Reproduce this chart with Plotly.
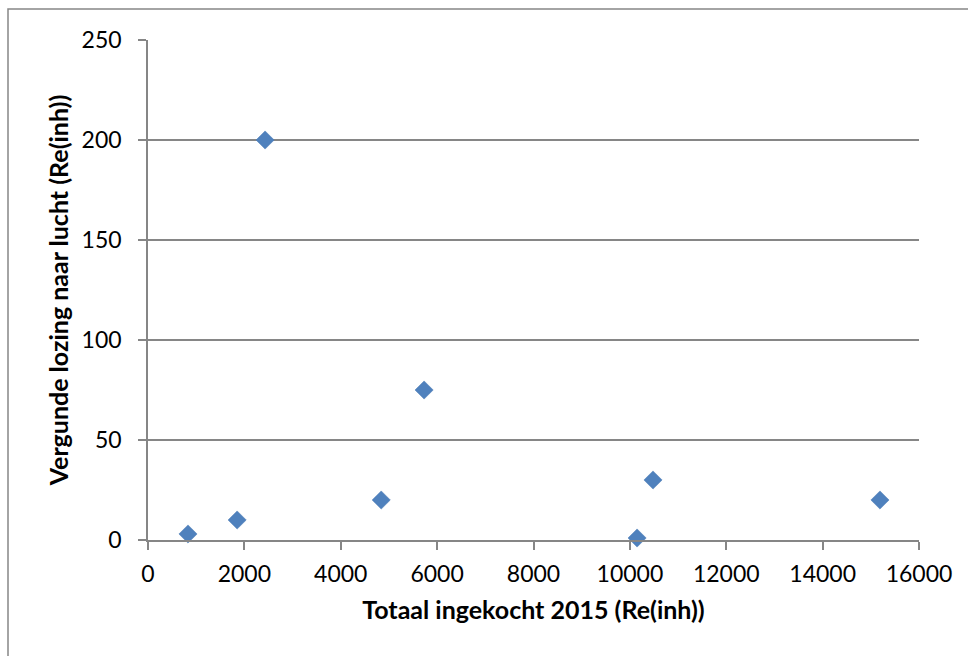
import plotly.graph_objects as go

x_vals = [830, 1850, 2430, 4840, 5730, 10150, 10480, 15190]
y_vals = [3, 10, 200, 20, 75, 1, 30, 20]
x_ticks = [0, 2000, 4000, 6000, 8000, 10000, 12000, 14000, 16000]
y_ticks = [0, 50, 100, 150, 200, 250]

W, H = 968, 656
L, R, T, B = 148, 49, 40, 116
pw, ph = W - L - R, H - T - B

fig = go.Figure(go.Scatter(
    x=x_vals, y=y_vals, mode="markers",
    marker=dict(symbol="diamond", size=14, color="#4F81BD",
                line=dict(width=0.5, color="#4A7AB5")),
    showlegend=False, cliponaxis=False,
))

fam = "Lato, 'Open Sans', sans-serif"
axis_font = dict(family=fam, size=23, color="#000")
title_font = dict(family=fam, size=25, color="#000")
gray = "#868686"

fig.update_layout(
    width=W, height=H,
    margin=dict(l=L, r=R, t=T, b=B),
    paper_bgcolor="white", plot_bgcolor="white",
    xaxis=dict(range=[0, 16000], tickvals=x_ticks, ticktext=[str(v) for v in x_ticks],
               showgrid=False, zeroline=False, showline=True, linecolor=gray, linewidth=1.5,
               ticks="outside", ticklen=8, tickcolor=gray, tickwidth=1.5,
               tickfont=axis_font, ticklabelstandoff=5,
               title=dict(text="<b>Totaal ingekocht 2015 (Re(inh))</b>",
                          font=title_font, standoff=15)),
    yaxis=dict(range=[0, 250], tickvals=y_ticks, ticktext=[str(v) for v in y_ticks],
               showgrid=True, gridcolor=gray, gridwidth=1.5, zeroline=False,
               showline=True, linecolor=gray, linewidth=1.5,
               ticks="outside", ticklen=8, tickcolor=gray, tickwidth=1.5,
               tickfont=axis_font, ticklabelstandoff=12,
               title=dict(text="<b>Vergunde lozing naar lucht (Re(inh))</b>",
                          font=title_font, standoff=6)),
    shapes=[dict(type="rect", xref="paper", yref="paper",
                 x0=(8 - L) / pw, x1=(W + 5 - L) / pw,
                 y0=-(H + 5 - T - ph) / ph, y1=1 + (T - 9) / ph,
                 line=dict(color=gray, width=1.5), fillcolor="rgba(0,0,0,0)", layer="below")],
)

fig.write_html("out.html")
